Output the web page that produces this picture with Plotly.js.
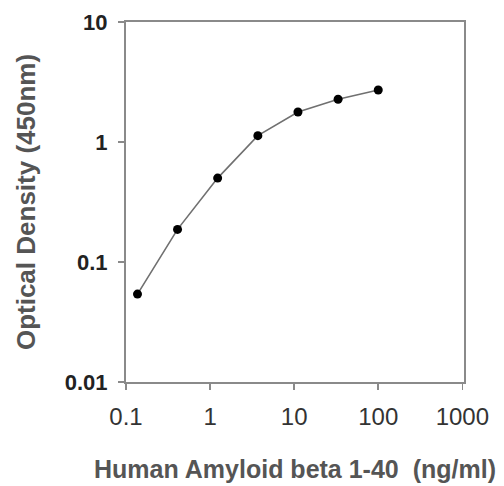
<!DOCTYPE html>
<html>
<head>
<meta charset="utf-8">
<script src="https://cdn.plot.ly/plotly-3.0.1.min.js"></script>
<style>html,body{margin:0;padding:0;background:#fff;}#chart{width:504px;height:486px;}</style>
</head>
<body>
<div id="chart"></div>
<script>
// Human Amyloid beta 1-40 concentration (ng/ml)
const concentration = [0.137, 0.41, 1.23, 3.7, 11.1, 33.3, 100];
// Optical density at 450 nm
const opticalDensity = [0.054, 0.187, 0.50, 1.13, 1.78, 2.27, 2.71];
const xTickValues = [0.1, 1, 10, 100, 1000];
const xTickLabels = ["0.1", "1", "10", "100", "1000"];
const yTickValues = [0.01, 0.1, 1, 10];
const yTickLabels = ["0.01", "0.1", "1", "10"];

const trace = {
  x: concentration,
  y: opticalDensity,
  type: "scatter",
  mode: "lines+markers",
  line: {color: "#707070", width: 1.6},
  marker: {color: "#000", size: 9},
  hoverinfo: "x+y"
};

const layout = {
  width: 504,
  height: 486,
  margin: {l: 126, r: 40, t: 22, b: 104},
  paper_bgcolor: "#fff",
  plot_bgcolor: "#fff",
  showlegend: false,
  font: {family: "Liberation Sans, Arial, sans-serif"},
  xaxis: {
    type: "log",
    range: [-1, 3.02],
    tickvals: xTickValues,
    ticktext: xTickLabels,
    ticks: "outside",
    ticklen: 6,
    tickwidth: 1.5,
    tickcolor: "#8a8a8a",
    showline: true,
    linecolor: "#8a8a8a",
    linewidth: 2,
    mirror: true,
    showgrid: false,
    zeroline: false,
    ticklabelstandoff: 6,
    tickfont: {family: "Liberation Sans, Arial, sans-serif", size: 24, color: "#333"},
    title: {
      text: "Human Amyloid beta 1-40  (ng/ml)",
      font: {family: "Liberation Sans, Arial, sans-serif", size: 25, color: "#555", weight: "bold"},
      standoff: 32
    }
  },
  yaxis: {
    type: "log",
    range: [-2, 1],
    tickvals: yTickValues,
    ticktext: yTickLabels,
    ticks: "outside",
    ticklen: 6,
    tickwidth: 1.5,
    tickcolor: "#8a8a8a",
    showline: true,
    linecolor: "#8a8a8a",
    linewidth: 2,
    mirror: true,
    showgrid: false,
    zeroline: false,
    ticklabelstandoff: 6,
    tickfont: {family: "Liberation Sans, Arial, sans-serif", size: 22, color: "#222", weight: "bold"},
    title: {
      text: "Optical Density (450nm)",
      font: {family: "Liberation Sans, Arial, sans-serif", size: 26, color: "#555", weight: "bold"},
      standoff: 22
    }
  }
};

Plotly.newPlot("chart", [trace], layout, {displayModeBar: false, staticPlot: true});
</script>
</body>
</html>
